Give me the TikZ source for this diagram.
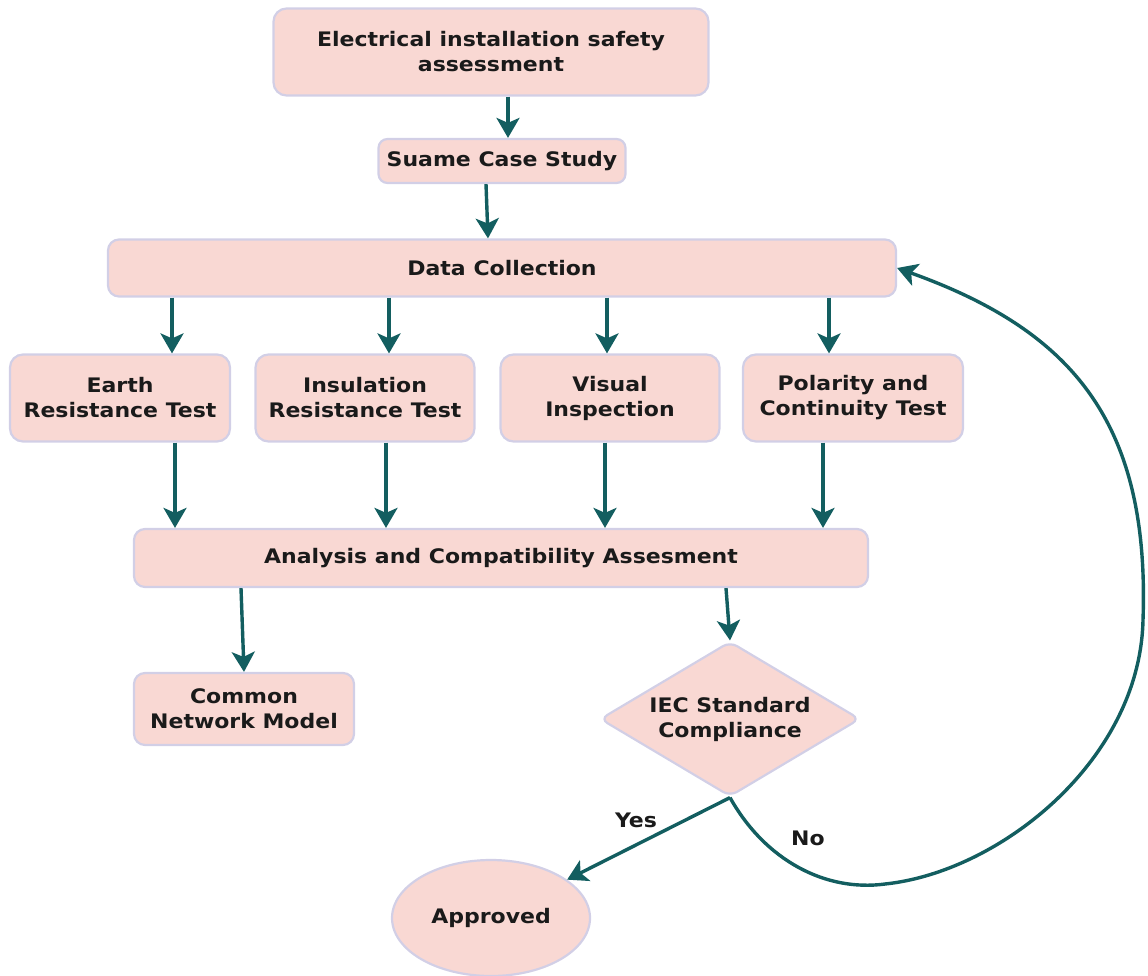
\documentclass[tikz,border=0pt]{standalone}
\usepackage{fontspec}
\setmainfont[FakeStretch=1.1]{DejaVu Sans}
\usetikzlibrary{arrows.meta,shapes.geometric}
\definecolor{boxfill}{HTML}{F9D8D3}
\definecolor{boxline}{HTML}{D2CFE6}
\definecolor{teal}{HTML}{135E60}
\definecolor{txt}{HTML}{1A1A1A}
\tikzset{
  lbl/.style={font=\fontsize{20}{25}\selectfont\bfseries, text=txt, align=center},
  box/.style={draw=boxline, line width=2.2pt, fill=boxfill, rounded corners=13pt, lbl, inner sep=0pt},
  arr/.style={draw=teal, line width=3.4pt, -{Stealth[length=20pt,width=23pt,inset=5pt]}},
}
\begin{document}
\begin{tikzpicture}[x=1pt,y=-1pt]
\useasboundingbox (0,0) rectangle (1148,975);
\node[box, minimum width=435pt, minimum height=87pt] (top) at (491,52) {Electrical installation safety\\assessment};
\node[box, minimum width=247pt, minimum height=44pt, rounded corners=9pt] (suame) at (502,161) {Suame Case Study};
\node[box, minimum width=788pt, minimum height=57pt, rounded corners=11pt] (data) at (502,268) {Data Collection};
\node[box, minimum width=220pt, minimum height=87pt] (earth) at (120,398) {Earth\\Resistance Test};
\node[box, minimum width=219pt, minimum height=87pt] (ins) at (365,398) {Insulation\\Resistance Test};
\node[box, minimum width=219pt, minimum height=87pt] (vis) at (610,398) {Visual\\Inspection};
\node[box, minimum width=220pt, minimum height=87pt] (pol) at (853,398) {Polarity and\\Continuity Test};
\node[box, minimum width=734pt, minimum height=58pt, rounded corners=11pt] (ana) at (501,558) {Analysis and Compatibility Assesment};
\node[box, minimum width=220pt, minimum height=72pt, rounded corners=11pt] (com) at (244,709) {Common\\Network Model};
\node[diamond, draw=boxline, line width=2.2pt, fill=boxfill, rounded corners=8pt, minimum width=260pt, minimum height=155pt, inner sep=0pt] (dia) at (730,719) {};
\node[lbl] (diatext) at (dia.center) {IEC Standard\\Compliance};
\node[ellipse, draw=boxline, line width=2.2pt, fill=boxfill, minimum width=198pt, minimum height=116pt, inner sep=0pt, lbl] (app) at (491,918) {Approved};
\node[lbl] (yes) at (636,820) {Yes};
\node[lbl] (no) at (808,838) {No};

\draw[arr] ([xshift=17pt]top.south) -- ([xshift=6pt]suame.north);
\draw[arr] ([xshift=-16pt]suame.south) -- ([xshift=-14pt]data.north);
\draw[arr] ([xshift=-330pt]data.south) -- ([xshift=52pt]earth.north);
\draw[arr] ([xshift=-113pt]data.south) -- ([xshift=24pt]ins.north);
\draw[arr] ([xshift=105pt]data.south) -- ([xshift=-3pt]vis.north);
\draw[arr] ([xshift=327pt]data.south) -- ([xshift=-24pt]pol.north);
\draw[arr] ([xshift=55pt]earth.south) -- ([xshift=-326pt]ana.north);
\draw[arr] ([xshift=21pt]ins.south) -- ([xshift=-115pt]ana.north);
\draw[arr] ([xshift=-5pt]vis.south) -- ([xshift=104pt]ana.north);
\draw[arr] ([xshift=-30pt]pol.south) -- ([xshift=322pt]ana.north);
\draw[arr] ([xshift=-260pt]ana.south) -- (com.north);
\draw[arr] ([xshift=225pt]ana.south) -- (dia.north);
\draw[arr] (dia.south) -- (app);
\draw[arr] (dia.south) .. controls (765,860) and (825,892) .. (885,884)
  .. controls (1000,872) and (1140,760) .. (1143,620)
  .. controls (1150,420) and (1070,330) .. (data.east);
\end{tikzpicture}
\end{document}
